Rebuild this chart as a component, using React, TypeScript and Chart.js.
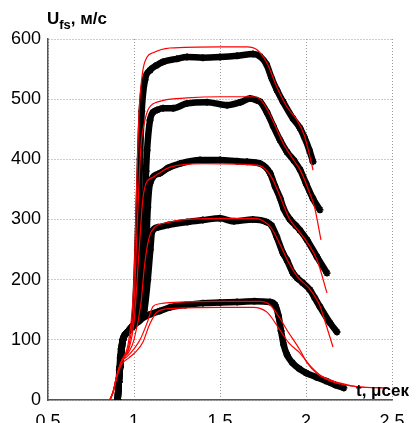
import React, { useEffect, useRef } from "react";
import { Chart, registerables } from "chart.js";
Chart.register(...registerables);

// time axis (μs) and velocity axis (m/s)
const xTicks = [0.5, 1, 1.5, 2, 2.5];
const yTicks = [0, 100, 200, 300, 400, 500, 600];

// measured free-surface velocity profiles (black markers)
const expA: number[][] = [[0.905,0],[0.912,30],[0.919,55],[0.925,75],[0.935,100],[0.96,112],[0.99,122],[1.0,125],[1.02,250],[1.035,400],[1.045,480],[1.064,532],[1.093,548],[1.13,556],[1.169,562],[1.25,567],[1.308,570],[1.4,569],[1.5,570],[1.6,572],[1.692,575],[1.733,571],[1.77,558],[1.8,535],[1.831,515],[1.866,496],[1.924,468],[1.965,452],[1.99,437],[2.02,415],[2.041,396]];
const expB: number[][] = [[0.905,0],[0.912,30],[0.919,55],[0.925,75],[0.935,100],[0.96,112],[0.99,122],[1.0,125],[1.04,200],[1.06,300],[1.07,380],[1.076,415],[1.093,465],[1.11,478],[1.134,482],[1.169,485],[1.227,485],[1.308,493],[1.424,495],[1.541,490],[1.62,495],[1.674,501],[1.715,498],[1.733,496],[1.773,478],[1.81,455],[1.849,432],[1.89,412],[1.93,398],[1.965,383],[2.0,360],[2.04,335],[2.081,316]];
const expC: number[][] = [[0.905,0],[0.912,30],[0.919,55],[0.925,75],[0.935,100],[0.96,112],[0.99,122],[1.0,125],[1.05,160],[1.07,250],[1.08,320],[1.093,360],[1.151,377],[1.2,386],[1.267,393],[1.384,399],[1.5,399],[1.6,397],[1.657,396],[1.733,393],[1.791,377],[1.82,355],[1.85,335],[1.87,318],[1.907,300],[1.94,290],[1.965,282],[2.006,266],[2.064,238],[2.122,211]];
const expD: number[][] = [[0.905,0],[0.912,30],[0.919,55],[0.925,75],[0.935,100],[0.96,112],[0.99,122],[1.0,125],[1.06,150],[1.08,200],[1.095,250],[1.105,280],[1.14,287],[1.2,291],[1.31,296],[1.4,299],[1.5,302],[1.58,297],[1.69,300],[1.77,296],[1.8,290],[1.83,271],[1.866,244],[1.89,232],[1.924,211],[1.948,203],[1.98,195],[2.023,183],[2.05,170],[2.081,155],[2.14,128],[2.18,113]];
const expE: number[][] = [[0.905,0],[0.91,25],[0.915,50],[0.92,70],[0.925,85],[0.935,100],[0.96,112],[0.99,122],[1.035,133],[1.09,142],[1.15,148],[1.21,154],[1.3,158],[1.4,161],[1.5,162],[1.6,163],[1.7,164],[1.79,163],[1.82,158],[1.84,140],[1.855,115],[1.87,92],[1.89,75],[1.92,62],[1.96,52],[2.0,45],[2.06,38],[2.12,31],[2.17,25],[2.22,20]];

// simulated profiles (red lines)
const simA: number[][] = [[0.86,0],[0.88,15],[0.9,40],[0.93,66],[0.97,100],[1.0,200],[1.015,350],[1.03,480],[1.05,545],[1.076,570],[1.11,577],[1.209,585],[1.5,587],[1.657,587],[1.715,582],[1.773,560],[1.831,520],[1.89,487],[1.948,465],[1.99,440],[2.023,404],[2.041,382]];
const simB: number[][] = [[0.86,0],[0.88,15],[0.9,40],[0.93,66],[0.97,90],[1.0,160],[1.02,300],[1.04,420],[1.06,460],[1.081,482],[1.134,495],[1.308,502],[1.5,504],[1.692,504],[1.733,500],[1.78,480],[1.83,450],[1.87,425],[1.93,398],[1.97,380],[2.02,345],[2.05,320],[2.087,266]];
const simC: number[][] = [[0.86,0],[0.88,15],[0.9,40],[0.93,66],[0.97,85],[1.0,130],[1.03,250],[1.05,330],[1.07,360],[1.11,370],[1.209,387],[1.4,393],[1.692,391],[1.75,387],[1.8,370],[1.85,338],[1.9,303],[1.96,280],[2.0,265],[2.064,233],[2.122,178]];
const simD: number[][] = [[0.86,0],[0.88,15],[0.9,40],[0.93,66],[0.97,80],[1.0,100],[1.04,160],[1.06,220],[1.08,260],[1.105,282],[1.2,295],[1.267,299],[1.5,302],[1.7,302],[1.75,298],[1.8,285],[1.85,258],[1.9,228],[1.95,205],[2.02,185],[2.08,157],[2.1,140],[2.157,88]];
const simE1: number[][] = [[0.86,0],[0.88,15],[0.9,40],[0.93,65],[0.96,72],[1.0,85],[1.035,100],[1.076,128],[1.11,155],[1.15,160],[1.21,162],[1.5,164],[1.733,164],[1.791,158],[1.85,135],[1.89,116],[1.965,83],[2.006,62],[2.06,45],[2.157,30],[2.3,22],[2.47,20]];
const simE2: number[][] = [[0.86,0],[0.88,14],[0.9,38],[0.93,60],[0.97,70],[1.01,80],[1.05,95],[1.09,125],[1.13,145],[1.21,152],[1.5,154],[1.692,154],[1.773,146],[1.849,116],[1.9,95],[1.965,78],[2.03,55],[2.1,38],[2.2,28],[2.3,22],[2.47,20]];

const experiments = [expA, expB, expC, expD, expE];
const simulations = [simA, simB, simC, simD, simE1, simE2];

const FONT = '"Liberation Sans", Arial, sans-serif';

export default function App() {
  const ref = useRef<HTMLCanvasElement | null>(null);
  useEffect(() => {
    document.body.style.margin = "0";
    const canvas = ref.current!;
    const toPts = (arr: number[][]) => arr.map(([x, y]) => ({ x, y }));
    const datasets: any[] = [];
    simulations.forEach((s) => {
      datasets.push({
        data: toPts(s),
        showLine: true,
        borderColor: "#ff0000",
        borderWidth: 1.2,
        pointRadius: 0,
        cubicInterpolationMode: "monotone",
        fill: false,
      });
    });
    experiments.forEach((s) => {
      datasets.push({
        data: toPts(s),
        showLine: true,
        borderColor: "#000000",
        borderWidth: 6.5,
        pointStyle: "star",
        pointRadius: 3.5,
        pointBorderWidth: 1.8,
        pointBorderColor: "#000",
        pointBackgroundColor: "#000",
        cubicInterpolationMode: "monotone",
        fill: false,
      });
    });
    const chart = new Chart(canvas, {
      type: "scatter",
      data: { datasets },
      options: {
        animation: false,
        responsive: false,
        layout: { padding: { top: 39, right: 25, left: 0, bottom: 0 } },
        plugins: { legend: { display: false }, tooltip: { enabled: false } },
        scales: {
          x: {
            type: "linear",
            min: xTicks[0],
            max: xTicks[xTicks.length - 1],
            afterBuildTicks: (sc: any) => {
              sc.ticks = xTicks.map((v) => ({ value: v }));
            },
            afterFit: (sc: any) => {
              sc.height = 23;
            },
            ticks: {
              color: "#000",
              font: { family: FONT, size: 18 },
              padding: 11,
              maxRotation: 0,
              autoSkip: false,
              callback: (v: any) => String(v),
            },
            grid: { color: "#999999", lineWidth: 1, drawTicks: false },
            border: { display: true, color: "#555", width: 1.5, dash: [1, 2] },
          },
          y: {
            type: "linear",
            min: yTicks[0],
            max: yTicks[yTicks.length - 1],
            afterBuildTicks: (sc: any) => {
              sc.ticks = yTicks.map((v) => ({ value: v }));
            },
            afterFit: (sc: any) => {
              sc.width = 48;
            },
            ticks: {
              color: "#000",
              font: { family: FONT, size: 18 },
              padding: 7,
              autoSkip: false,
              callback: (v: any) => String(v),
            },
            grid: { color: "#999999", lineWidth: 1, drawTicks: false },
            border: { display: true, color: "#555", width: 1.5, dash: [1, 2] },
          },
        },
      },
    });
    return () => chart.destroy();
  }, []);

  return (
    <div style={{ position: "relative", width: 417, height: 423, background: "#fff", overflow: "hidden" }}>
      <canvas ref={ref} width={417} height={423} style={{ display: "block" }} />
      <div
        style={{
          position: "absolute",
          left: 47,
          top: 9,
          fontFamily: FONT,
          fontWeight: "bold",
          fontSize: 17,
          lineHeight: "20px",
          whiteSpace: "nowrap",
          color: "#000",
        }}
      >
        U<sub style={{ fontSize: 13, verticalAlign: "-5px" }}>fs</sub>, м/с
      </div>
      <div
        style={{
          position: "absolute",
          left: 356,
          top: 381,
          fontFamily: FONT,
          fontWeight: "bold",
          fontSize: 17,
          lineHeight: "20px",
          whiteSpace: "nowrap",
          color: "#000",
        }}
      >
        t, μсек
      </div>
    </div>
  );
}
